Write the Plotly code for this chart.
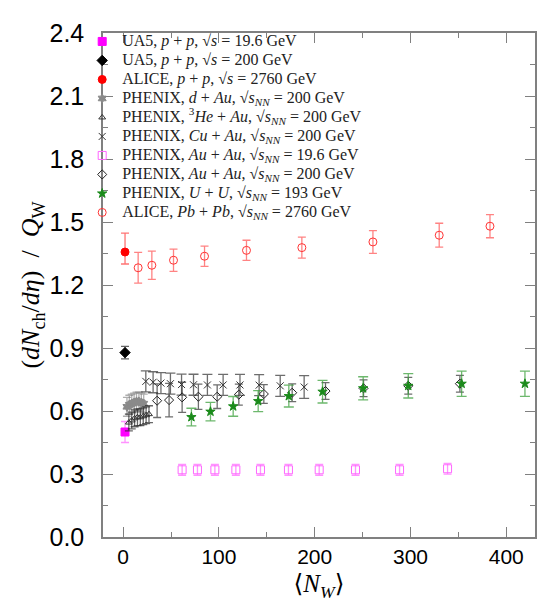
import plotly.graph_objects as go

# ---------------- data ----------------
ua5_196_x = [2]
ua5_196_y = [0.50]
ua5_196_err = [0.05]

ua5_200_x = [2]
ua5_200_y = [0.878]
ua5_200_err = [0.03]

alice_pp_x = [2]
alice_pp_y = [1.357]
alice_pp_errp = [0.09]
alice_pp_errm = [0.057]

dau_x = [4, 6.5, 9, 11.5, 14, 16.5, 19, 21.5]
dau_y = [0.62, 0.63, 0.635, 0.64, 0.645, 0.645, 0.64, 0.635]
dau_err = [0.045, 0.045, 0.045, 0.045, 0.045, 0.045, 0.045, 0.045]

heau_x = [6, 9, 12, 15, 18, 21, 24, 27]
heau_y = [0.545, 0.555, 0.565, 0.57, 0.57, 0.575, 0.58, 0.585]
heau_err = [0.04, 0.04, 0.04, 0.04, 0.04, 0.04, 0.04, 0.04]

cuau_x = [23.7, 31.3, 39.5, 49.4, 61, 73.5, 88, 104.4, 122, 142, 164, 189]
cuau_y = [0.741, 0.737, 0.733, 0.730, 0.726, 0.725, 0.724, 0.724, 0.724, 0.723, 0.72, 0.714]
cuau_err = [0.05, 0.05, 0.05, 0.05, 0.05, 0.05, 0.05, 0.05, 0.05, 0.05, 0.05, 0.054]

auau196_x = [61.6, 77.6, 95.8, 117.7, 143.4, 172.6, 204.7, 242.6, 288.6, 338.7]
auau196_y = [0.32, 0.32, 0.32, 0.32, 0.32, 0.32, 0.32, 0.32, 0.32, 0.325]
auau196_err = [0.026, 0.026, 0.026, 0.026, 0.026, 0.026, 0.026, 0.026, 0.026, 0.026]

auau200_x = [35.5, 48, 61.6, 78.6, 98.2, 120.8, 146.9, 176.5, 211.3, 251, 297.7, 351.6]
auau200_y = [0.649, 0.652, 0.665, 0.668, 0.668, 0.678, 0.681, 0.687, 0.695, 0.708, 0.72, 0.730]
auau200_err = [0.08, 0.08, 0.072, 0.06, 0.056, 0.05, 0.045, 0.042, 0.04, 0.04, 0.04, 0.04]

uu_x = [71.3, 91.2, 114.9, 141, 173, 208.2, 250.6, 297.7, 353.4, 419.5]
uu_y = [0.571, 0.597, 0.622, 0.647, 0.671, 0.692, 0.708, 0.72, 0.73, 0.73]
uu_err = [0.042, 0.044, 0.047, 0.05, 0.052, 0.054, 0.055, 0.058, 0.06, 0.06]

pbpb_x = [15.7, 30, 52.6, 85, 128.8, 186.6, 260.8, 330, 383]
pbpb_y = [1.282, 1.294, 1.318, 1.337, 1.365, 1.378, 1.405, 1.437, 1.48]
pbpb_err = [0.073, 0.067, 0.053, 0.048, 0.048, 0.05, 0.054, 0.057, 0.055]

x_ticks = [0, 100, 200, 300, 400]
y_ticks = [0.0, 0.3, 0.6, 0.9, 1.2, 1.5, 1.8, 2.1, 2.4]
y_tick_text = ["0.0", "0.3", "0.6", "0.9", "1.2", "1.5", "1.8", "2.1", "2.4"]

SNN = "√<i>s</i><sub><i>NN</i></sub>"
names = [
    "UA5, <i>p</i> + <i>p</i>, √<i>s</i> = 19.6 GeV",
    "UA5, <i>p</i> + <i>p</i>, √<i>s</i> = 200 GeV",
    "ALICE, <i>p</i> + <i>p</i>, √<i>s</i> = 2760 GeV",
    "PHENIX, <i>d</i> + <i>Au</i>, " + SNN + " = 200 GeV",
    "PHENIX, <sup>3</sup><i>He</i> + <i>Au</i>, " + SNN + " = 200 GeV",
    "PHENIX, <i>Cu</i> + <i>Au</i>, " + SNN + " = 200 GeV",
    "PHENIX, <i>Au</i> + <i>Au</i>, " + SNN + " = 19.6 GeV",
    "PHENIX, <i>Au</i> + <i>Au</i>, " + SNN + " = 200 GeV",
    "PHENIX, <i>U</i> + <i>U</i>, " + SNN + " = 193 GeV",
    "ALICE, <i>Pb</i> + <i>Pb</i>, " + SNN + " = 2760 GeV",
]

fig = go.Figure()


def add(x, y, err, name, symbol, color, size, ecolor, errm=None, lw=1.0, ewidth=4):
    ey = dict(type="data", array=err, color=ecolor, thickness=1.3, width=ewidth, visible=True)
    if errm is not None:
        ey["arrayminus"] = errm
        ey["symmetric"] = False
    fig.add_trace(go.Scatter(
        x=x, y=y, mode="markers",
        name='<span style="font-size:16px">' + name + '</span>',
        marker=dict(symbol=symbol, color=color, size=size, line=dict(color=color, width=lw)),
        error_y=ey,
    ))


add(ua5_196_x, ua5_196_y, ua5_196_err, names[0], "square", "#ff00ff", 8, "rgba(255,100,255,0.7)")
add(ua5_200_x, ua5_200_y, ua5_200_err, names[1], "diamond", "#000000", 8, "rgba(60,60,60,0.8)")
add(alice_pp_x, alice_pp_y, alice_pp_errp, names[2], "circle", "#ff0000", 8, "rgba(255,80,80,0.8)", errm=alice_pp_errm)
add(dau_x, dau_y, dau_err, names[3], "hexagram", "#8a8a8a", 7, "rgba(120,120,120,0.6)")
add(heau_x, heau_y, heau_err, names[4], "triangle-up-open", "#333333", 6, "rgba(40,40,40,0.7)")
add(cuau_x, cuau_y, cuau_err, names[5], "x-thin-open", "#333333", 7, "rgba(60,60,60,0.75)", ewidth=5)
add(auau196_x, auau196_y, auau196_err, names[6], "square-open", "#ff66ff", 8, "rgba(255,100,255,0.7)")
add(auau200_x, auau200_y, auau200_err, names[7], "diamond-open", "#222222", 7, "rgba(60,60,60,0.75)")
add(uu_x, uu_y, uu_err, names[8], "star", "#1a8a1a", 7, "rgba(60,160,60,0.75)", ewidth=5)
add(pbpb_x, pbpb_y, pbpb_err, names[9], "circle-open", "#ff3333", 8, "rgba(255,90,90,0.75)")

axis_common = dict(
    showline=True, linecolor="#808080", linewidth=1.5, mirror="ticks",
    ticks="inside", ticklen=10, tickcolor="#808080", tickwidth=1.3,
    showgrid=False, zeroline=False,
)

fig.update_xaxes(
    range=[-21, 430], tickvals=x_ticks,
    tickfont=dict(family="Liberation Sans, Arial", size=21, color="#000000"),
    minor=dict(dtick=50, tick0=0, ticks="inside", ticklen=5, tickcolor="#808080", showgrid=False),
    title=dict(text="⟨<i>N</i><sub><i>W</i></sub>⟩", font=dict(family="Liberation Serif, DejaVu Serif", size=25, color="#000"), standoff=8),
    **axis_common,
)
fig.update_yaxes(
    range=[0, 2.4], tickvals=y_ticks, ticktext=y_tick_text,
    tickfont=dict(family="Liberation Sans, Arial", size=25, color="#000000"),
    minor=dict(dtick=0.15, tick0=0, ticks="inside", ticklen=5, tickcolor="#808080", showgrid=False),
    ticklabelstandoff=12,
    title=dict(text="(<i>dN</i><sub>ch</sub>/<i>dη</i>)  /  <i>Q</i><sub>W</sub>", font=dict(family="Liberation Serif, DejaVu Serif", size=26, color="#000"), standoff=2),
    **axis_common,
)

fig.update_layout(
    width=545, height=610,
    margin=dict(l=95, r=18, t=25, b=81),
    paper_bgcolor="white", plot_bgcolor="white",
    showlegend=True,
    legend=dict(
        x=-0.025, y=1.012, xanchor="left", yanchor="top",
        bgcolor="rgba(0,0,0,0)", borderwidth=0,
        font=dict(family="Liberation Serif, DejaVu Serif", size=12, color="#222"),
        tracegroupgap=0, indentation=-10,
    ),
)

fig.write_html("out.html")
